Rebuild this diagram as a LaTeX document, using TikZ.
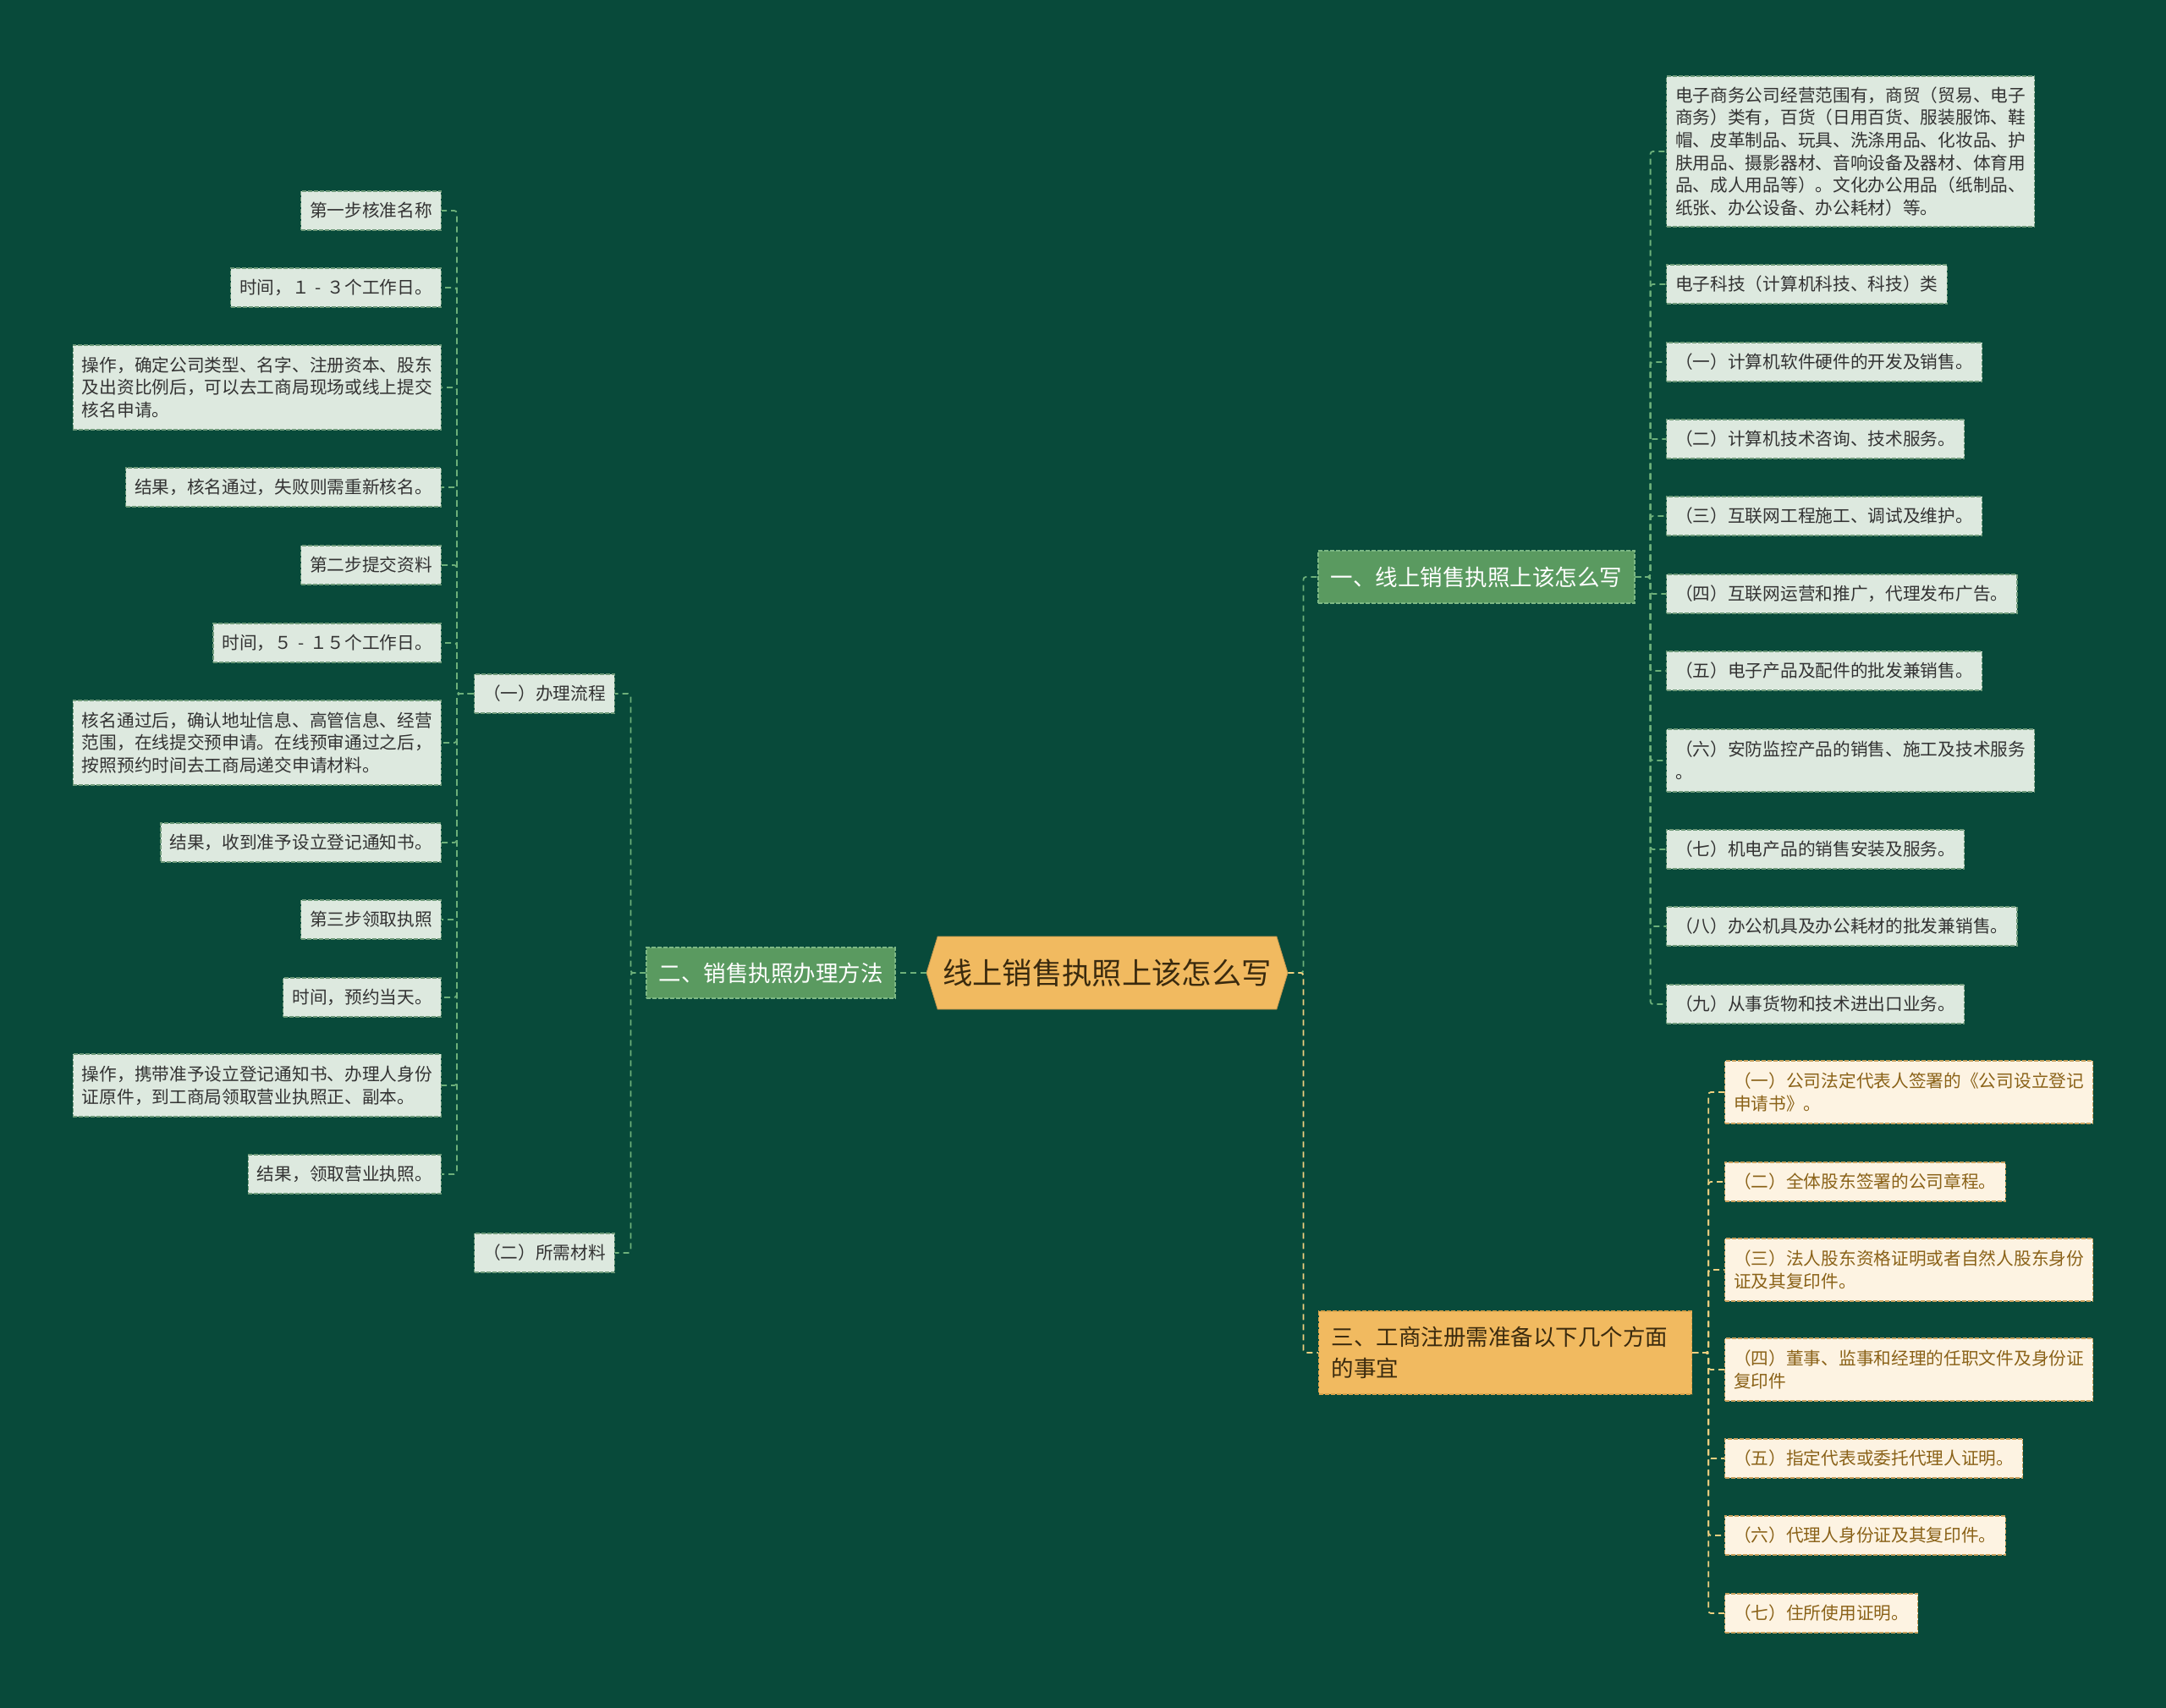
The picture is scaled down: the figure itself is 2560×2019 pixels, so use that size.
\documentclass[tikz,border=0pt]{standalone}
\usepackage{fontspec}
\setmainfont{Noto Sans CJK SC}
\usetikzlibrary{shapes.symbols}
\definecolor{bg}{HTML}{084A3A}
\definecolor{rootfill}{HTML}{F1BA60}
\definecolor{roottext}{HTML}{3A2A0E}
\definecolor{lonefill}{HTML}{5A9A60}
\definecolor{loneline}{HTML}{7DB884}
\definecolor{threeline}{HTML}{D9A24A}
\definecolor{kidfill}{HTML}{DDE9DF}
\definecolor{kidline}{HTML}{6E9A7A}
\definecolor{kidtext}{HTML}{333333}
\definecolor{crfill}{HTML}{FDF3E2}
\definecolor{crline}{HTML}{C9A15E}
\definecolor{crtext}{HTML}{8A6218}
\definecolor{cong}{HTML}{6DB07A}
\definecolor{cony}{HTML}{F0D080}
\newcommand{\emdashbox}{\makebox[1em]{-}}
\begin{document}
\begin{tikzpicture}[x=1pt,y=-1pt,
  kid/.style={draw=kidline, fill=kidfill, dash pattern=on 5pt off 2pt, line width=1.2pt,
    inner xsep=10.5pt, inner ysep=0pt, font=\fontsize{20.7}{26.7}\selectfont, text=kidtext,
    align=left, minimum height=46pt},
  cream/.style={kid, draw=crline, fill=crfill, text=crtext},
  htwo/.style={minimum height=74pt},
  hthree/.style={minimum height=100pt},
  hsix/.style={minimum height=178pt},
  lonebox/.style={draw=loneline, fill=lonefill, dash pattern=on 5pt off 2pt, line width=1.2pt,
    inner sep=0pt, font=\fontsize{26.5}{37}\selectfont, text=white},
  gline/.style={draw=cong, line width=1.8pt, dash pattern=on 7pt off 5pt, rounded corners=3pt},
  yline/.style={draw=cony, line width=1.8pt, dash pattern=on 7pt off 5pt, rounded corners=3pt}
]
\useasboundingbox[fill=bg] (0,0) rectangle (2560,2019);

% root
\node[signal, signal to=west and east, signal pointer angle=146, fill=rootfill, draw=rootfill!80!black,
  line width=0.8pt, minimum width=427pt, minimum height=86pt, inner sep=0pt,
  font=\fontsize{35.3}{40}\selectfont, text=roottext] (root) at (1308.5,1150) {线上销售执照上该怎么写};

% level 1
\node[lonebox, minimum width=374pt, minimum height=62pt] (one) at (1745,682) {一、线上销售执照上该怎么写};
\node[lonebox, minimum width=294pt, minimum height=60pt] (two) at (911,1150) {二、销售执照办理方法};
\node[lonebox, draw=threeline, fill=rootfill, text=roottext, anchor=west, text width=411pt, align=left,
  inner xsep=15pt, minimum height=98pt] (three) at (1558,1599) {三、工商注册需准备以下几个方面\\的事宜};

% right kids of one
\node[kid, hsix, anchor=west] (r1) at (1969,179) {电子商务公司经营范围有，商贸（贸易、电子\\商务）类有，百货（日用百货、服装服饰、鞋\\帽、皮革制品、玩具、洗涤用品、化妆品、护\\肤用品、摄影器材、音响设备及器材、体育用\\品、成人用品等）。文化办公用品（纸制品、\\纸张、办公设备、办公耗材）等。};
\node[kid, anchor=west] (r2) at (1969,336) {电子科技（计算机科技、科技）类};
\node[kid, anchor=west] (r3) at (1969,428) {（一）计算机软件硬件的开发及销售。};
\node[kid, anchor=west] (r4) at (1969,519) {（二）计算机技术咨询、技术服务。};
\node[kid, anchor=west] (r5) at (1969,610) {（三）互联网工程施工、调试及维护。};
\node[kid, anchor=west] (r6) at (1969,702) {（四）互联网运营和推广，代理发布广告。};
\node[kid, anchor=west] (r7) at (1969,793) {（五）电子产品及配件的批发兼销售。};
\node[kid, htwo, anchor=west] (r8) at (1969,899) {（六）安防监控产品的销售、施工及技术服务\\。};
\node[kid, anchor=west] (r9) at (1969,1004) {（七）机电产品的销售安装及服务。};
\node[kid, anchor=west] (r10) at (1969,1095) {（八）办公机具及办公耗材的批发兼销售。};
\node[kid, anchor=west] (r11) at (1969,1187) {（九）从事货物和技术进出口业务。};

% kids of three
\node[cream, htwo, anchor=west] (t1) at (2038,1291) {（一）公司法定代表人签署的《公司设立登记\\申请书》。};
\node[cream, anchor=west] (t2) at (2038,1397) {（二）全体股东签署的公司章程。};
\node[cream, htwo, anchor=west] (t3) at (2038,1501) {（三）法人股东资格证明或者自然人股东身份\\证及其复印件。};
\node[cream, htwo, anchor=west] (t4) at (2038,1619) {（四）董事、监事和经理的任职文件及身份证\\复印件};
\node[cream, anchor=west] (t5) at (2038,1724) {（五）指定代表或委托代理人证明。};
\node[cream, anchor=west] (t6) at (2038,1815) {（六）代理人身份证及其复印件。};
\node[cream, anchor=west] (t7) at (2038,1907) {（七）住所使用证明。};

% kids of two
\node[kid, anchor=east] (la) at (727,820) {（一）办理流程};
\node[kid, anchor=east] (lb) at (727,1481) {（二）所需材料};

% kids of la
\node[kid, anchor=east] (c1) at (522,249) {第一步核准名称};
\node[kid, anchor=east] (c2) at (522,340) {时间，１\emdashbox３个工作日。};
\node[kid, hthree, anchor=east] (c3) at (522,458) {操作，确定公司类型、名字、注册资本、股东\\及出资比例后，可以去工商局现场或线上提交\\核名申请。};
\node[kid, anchor=east] (c4) at (522,576) {结果，核名通过，失败则需重新核名。};
\node[kid, anchor=east] (c5) at (522,668) {第二步提交资料};
\node[kid, anchor=east] (c6) at (522,760) {时间，５\emdashbox１５个工作日。};
\node[kid, hthree, anchor=east] (c7) at (522,878) {核名通过后，确认地址信息、高管信息、经营\\范围，在线提交预申请。在线预审通过之后，\\按照预约时间去工商局递交申请材料。};
\node[kid, anchor=east] (c8) at (522,996) {结果，收到准予设立登记通知书。};
\node[kid, anchor=east] (c9) at (522,1087) {第三步领取执照};
\node[kid, anchor=east] (c10) at (522,1179) {时间，预约当天。};
\node[kid, htwo, anchor=east] (c11) at (522,1283) {操作，携带准予设立登记通知书、办理人身份\\证原件，到工商局领取营业执照正、副本。};
\node[kid, anchor=east] (c12) at (522,1388) {结果，领取营业执照。};

% connectors
\draw[gline] (root.east) -- ++(18,0) |- (one.west);
\draw[yline] (root.east) -- ++(18,0) |- (three.west);
\draw[gline] (root.west) -- (two.east);
\foreach \n in {r1,r2,r3,r4,r5,r6,r7,r8,r9,r10,r11}
  \draw[gline] (one.east) -- ++(18,0) |- (\n.west);
\foreach \n in {t1,t2,t3,t4,t5,t6,t7}
  \draw[yline] (three.east) -- ++(19,0) |- (\n.west);
\foreach \n in {la,lb}
  \draw[gline] (two.west) -- ++(-18,0) |- (\n.east);
\foreach \n in {c1,c2,c3,c4,c5,c6,c7,c8,c9,c10,c11,c12}
  \draw[gline] (la.west) -- ++(-20,0) |- (\n.east);
\end{tikzpicture}
\end{document}
